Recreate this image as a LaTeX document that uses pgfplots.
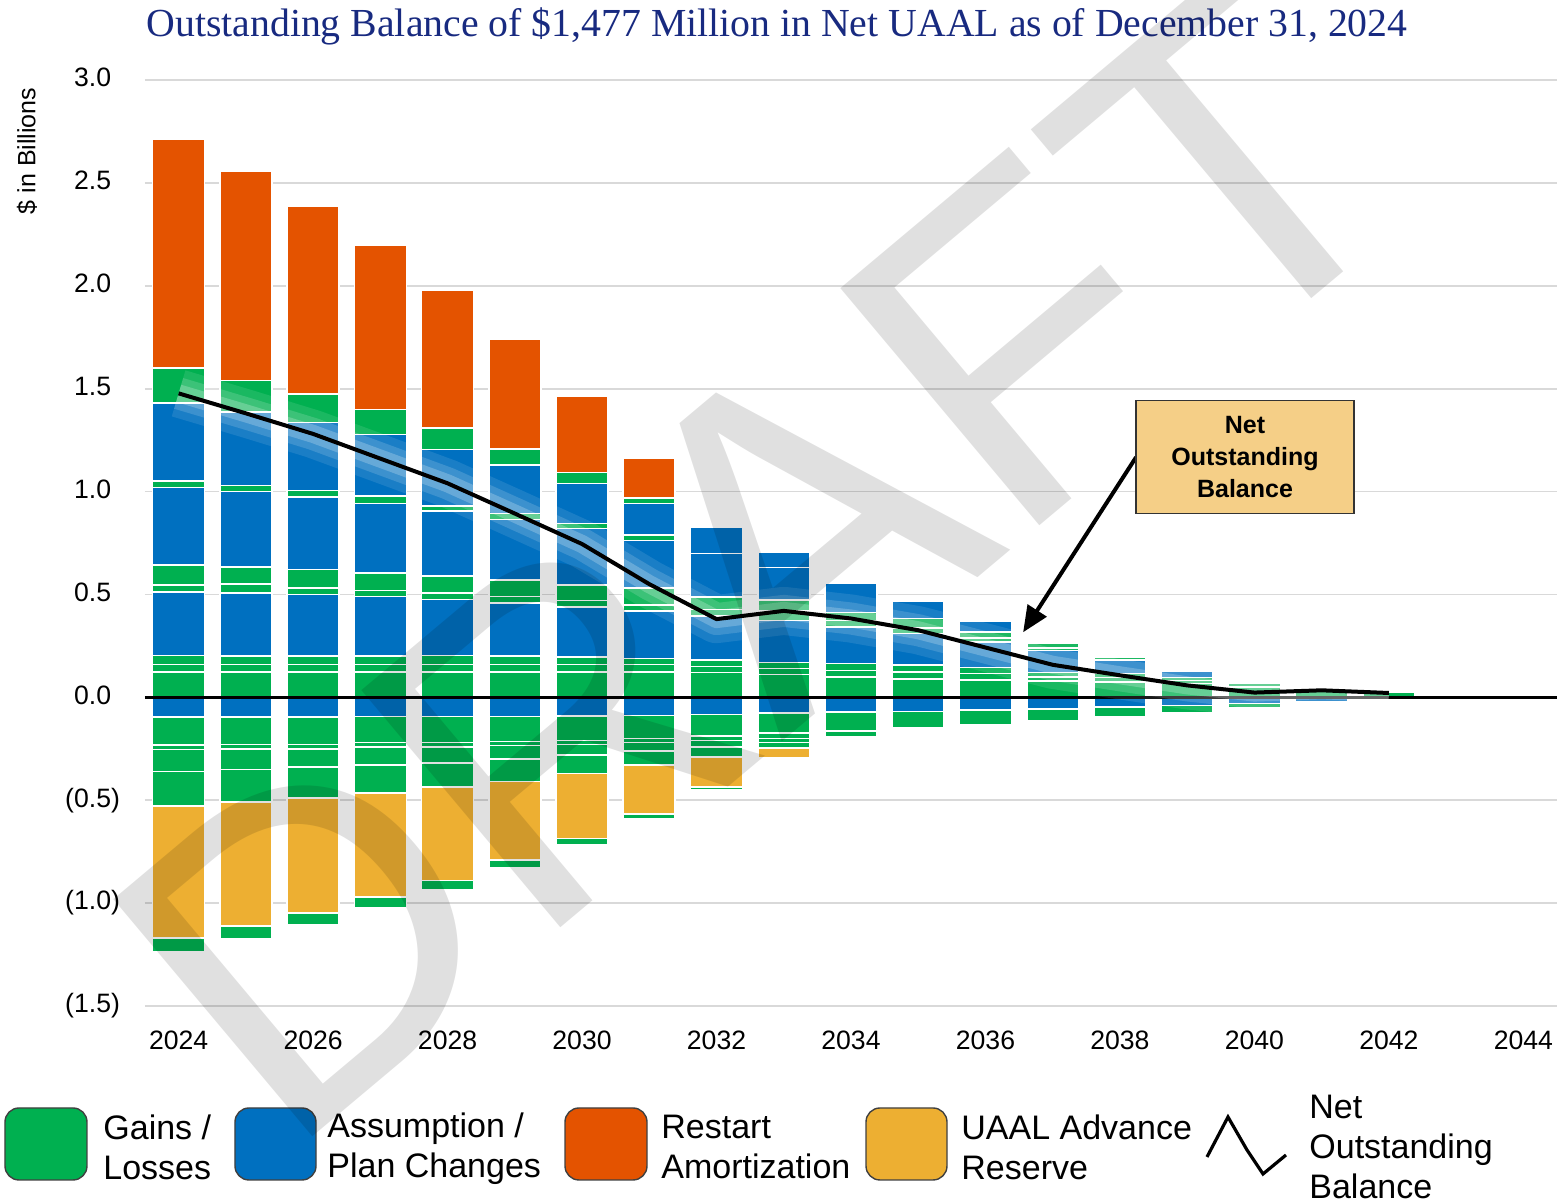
\documentclass[border=0pt]{standalone}
\usepackage{pgfplots}
\pgfplotsset{compat=1.18}
\usepackage{pgfplotstable}
\usepackage{fontspec}
\usepackage{graphicx}
\setmainfont{Liberation Sans}
\newfontfamily\titlefont{Liberation Serif}
\usetikzlibrary{arrows.meta}
\definecolor{cG}{RGB}{0,176,80}
\definecolor{cB}{RGB}{0,112,192}
\definecolor{cO}{RGB}{228,83,0}
\definecolor{cY}{RGB}{237,175,50}
\definecolor{cT}{RGB}{24,42,128}
\definecolor{cBox}{RGB}{245,207,135}
\definecolor{cGrid}{RGB}{217,217,217}

\pgfplotstableread{
year G1 G2 G3 B4 G5 G6 B7 G8 B9 G10 O11
2024 .123 .037 .044 .308 .033 .097 .378 .030 .381 .169 1.110
2025 .123 .037 .040 .307 .043 .084 .366 .030 .357 .153 1.017
2026 .123 .037 .040 .300 .031 .090 .353 .031 .331 .137 .914
2027 .123 .037 .040 .290 .030 .084 .338 .035 .300 .122 .796
2028 .123 .037 .044 .271 .032 .083 .314 .026 .274 .106 .669
2029 .123 .037 .040 .259 .031 .079 .295 .029 .235 .079 .532
2030 .123 .037 .036 .244 .030 .075 .275 .025 .194 .054 .372
2031 .123 .037 .028 .232 .030 .080 .233 .025 .154 .027 .195
2032 .120 .030 .030 .214 .032 .062 .211 0 .129 0 0
2033 .110 .030 .030 .204 .046 .052 .158 0 .073 0 0
2034 .100 .030 .034 .178 .032 .038 .141 0 0 0 0
2035 .090 .033 .033 .154 .027 .046 .085 0 0 0 0
2036 .085 .030 .029 .125 .019 .030 .053 0 0 0 0
2037 .078 .020 .022 .108 .012 .024 0 0 0 0 0
2038 .074 .022 .019 .065 .016 .008 0 0 0 0 0
2039 .067 .014 .015 .030 0 0 0 0 0 0 0
2040 .050 .021 0 0 0 0 0 0 0 0 0
2041 .040 0 0 0 0 0 0 0 0 0 0
2042 .026 0 0 0 0 0 0 0 0 0 0
}\pos

\pgfplotstableread{
year N1 N2 N3 N4 N5 N6 N7
2024 -.096 -.137 -.020 -.107 -.167 -.643 -.065
2025 -.096 -.134 -.020 -.100 -.160 -.602 -.061
2026 -.096 -.134 -.020 -.090 -.150 -.557 -.058
2027 -.094 -.126 -.020 -.090 -.135 -.505 -.055
2028 -.093 -.127 -.020 -.080 -.116 -.454 -.045
2029 -.093 -.122 -.020 -.065 -.110 -.380 -.040
2030 -.090 -.120 -.020 -.050 -.090 -.317 -.029
2031 -.088 -.112 -.020 -.040 -.070 -.236 -.024
2032 -.083 -.105 -.022 -.030 -.050 -.146 -.014
2033 -.076 -.098 -.026 -.020 -.025 -.050 0
2034 -.071 -.093 -.026 0 0 0 0
2035 -.068 -.079 0 0 0 0 0
2036 -.063 -.070 0 0 0 0 0
2037 -.058 -.057 0 0 0 0 0
2038 -.047 -.049 0 0 0 0 0
2039 -.039 -.035 0 0 0 0 0
2040 -.031 -.019 0 0 0 0 0
2041 -.020 0 0 0 0 0 0
}\negs

\pgfplotstableread{
year net
2024 1.477
2025 1.380
2026 1.280
2027 1.160
2028 1.040
2029 0.893
2030 0.745
2031 0.550
2032 0.380
2033 0.420
2034 0.383
2035 0.326
2036 0.242
2037 0.158
2038 0.107
2039 0.058
2040 0.023
2041 0.034
2042 0.021
}\netbal

\pgfplotsset{
  base/.style={
    at={(0,0)}, anchor=south west, scale only axis,
    width=706pt, height=463pt,
    xmin=2023.5, xmax=2044.5, ymin=-1.5, ymax=3.0,
  },
  seg/.style={fill=#1, draw=white, line width=0.8pt},
}

\begin{document}
\begin{tikzpicture}
% positive stacks + grid + ticks
\begin{axis}[base, ybar stacked, bar width=26pt,
  axis line style={draw=none}, major tick length=0pt,
  ymajorgrids, grid style={cGrid, line width=0.9pt},
  ytick={-1.5,-1,-0.5,0,0.5,1,1.5,2,2.5,3},
  yticklabels={(1.5),(1.0),(0.5),0.0\phantom{)},0.5\phantom{)},1.0\phantom{)},1.5\phantom{)},2.0\phantom{)},2.5\phantom{)},3.0\phantom{)}},
  xtick={2024,2026,2028,2030,2032,2034,2036,2038,2040,2042,2044},
  xticklabels={2024,2026,2028,2030,2032,2034,2036,2038,2040,2042,2044},
  tick label style={font=\fontsize{13.3}{16}\selectfont},
  yticklabel style={xshift=-9pt},
  xticklabel style={yshift=-9pt}]
\addplot[seg=cG] table[x=year,y=G1]{\pos};
\addplot[seg=cG] table[x=year,y=G2]{\pos};
\addplot[seg=cG] table[x=year,y=G3]{\pos};
\addplot[seg=cB] table[x=year,y=B4]{\pos};
\addplot[seg=cG] table[x=year,y=G5]{\pos};
\addplot[seg=cG] table[x=year,y=G6]{\pos};
\addplot[seg=cB] table[x=year,y=B7]{\pos};
\addplot[seg=cG] table[x=year,y=G8]{\pos};
\addplot[seg=cB] table[x=year,y=B9]{\pos};
\addplot[seg=cG] table[x=year,y=G10]{\pos};
\addplot[seg=cO] table[x=year,y=O11]{\pos};
\end{axis}
% negative stacks
\begin{axis}[base, hide axis, ybar stacked, bar width=26pt]
\addplot[seg=cB] table[x=year,y=N1]{\negs};
\addplot[seg=cG] table[x=year,y=N2]{\negs};
\addplot[seg=cG] table[x=year,y=N3]{\negs};
\addplot[seg=cG] table[x=year,y=N4]{\negs};
\addplot[seg=cG] table[x=year,y=N5]{\negs};
\addplot[seg=cY] table[x=year,y=N6]{\negs};
\addplot[seg=cG] table[x=year,y=N7]{\negs};
\end{axis}
% line, zero line, annotation
\begin{axis}[base, hide axis, clip=false]
\draw[black, line width=1.5pt] (axis cs:2023.5,0) -- (axis cs:2044.5,0);
\addplot[white, opacity=0.10, line width=24pt, line join=round] table[x=year,y=net]{\netbal};
\addplot[white, opacity=0.15, line width=16pt, line join=round] table[x=year,y=net]{\netbal};
\addplot[white, opacity=0.22, line width=9pt, line join=round] table[x=year,y=net]{\netbal};
\addplot[black, line width=2pt, line join=round] table[x=year,y=net]{\netbal};
\draw[line width=2pt, -{Triangle[length=13pt, width=11pt]}] (axis cs:2038.24,1.167) -- (axis cs:2036.56,0.316);
\node[fill=cBox, draw=black!80, line width=0.6pt, minimum width=109pt, minimum height=56.5pt,
  align=center, font=\bfseries\fontsize{12.5}{16}\selectfont] at (axis cs:2039.86,1.167) {Net\\Outstanding\\Balance};
\end{axis}

% title and y label
\node[text=cT] at (316pt,490pt) {\resizebox{630.5pt}{!}{\titlefont Outstanding Balance of \$1,477 Million in Net UAAL as of December 31, 2024}};
\node[rotate=90, font=\fontsize{12.5}{15}\selectfont] at (-59pt,427.5pt) {\$ in Billions};

% legend
\begin{scope}[every node/.style={anchor=west, align=left, inner sep=0pt, font=\fontsize{17}{20}\selectfont}]
\draw[fill=cG, draw=black!75, line width=0.7pt, rounded corners=7pt] (-70pt,-51pt) rectangle (-29pt,-87pt);
\node at (-21pt,-70.5pt) {Gains /\\Losses};
\draw[fill=cB, draw=black!75, line width=0.7pt, rounded corners=7pt] (45pt,-51pt) rectangle (85.5pt,-87pt);
\node at (91pt,-71.5pt) {Assumption /\\Plan Changes};
\draw[fill=cO, draw=black!75, line width=0.7pt, rounded corners=7pt] (210pt,-51pt) rectangle (251pt,-87pt);
\node at (258pt,-70.5pt) {Restart\\Amortization};
\draw[fill=cY, draw=black!75, line width=0.7pt, rounded corners=7pt] (360.5pt,-51pt) rectangle (401pt,-87pt);
\node at (408pt,-70.5pt) {UAAL Advance\\Reserve};
\draw[black, line width=1.6pt] (531pt,-75.5pt) -- (541.5pt,-55.5pt) -- (551pt,-72pt) -- (559pt,-84pt) -- (570.5pt,-74.5pt);
\node at (582pt,-70.5pt) {Net\\Outstanding\\Balance};
\end{scope}

% watermark
\node[rotate=40, text=black, opacity=0.12, font=\fontsize{225}{225}\selectfont] at (307pt,223pt) {DRAFT};

\pgfresetboundingbox
\useasboundingbox (-72.5pt,-98pt) rectangle (707.5pt,503pt);
\end{tikzpicture}
\end{document}
